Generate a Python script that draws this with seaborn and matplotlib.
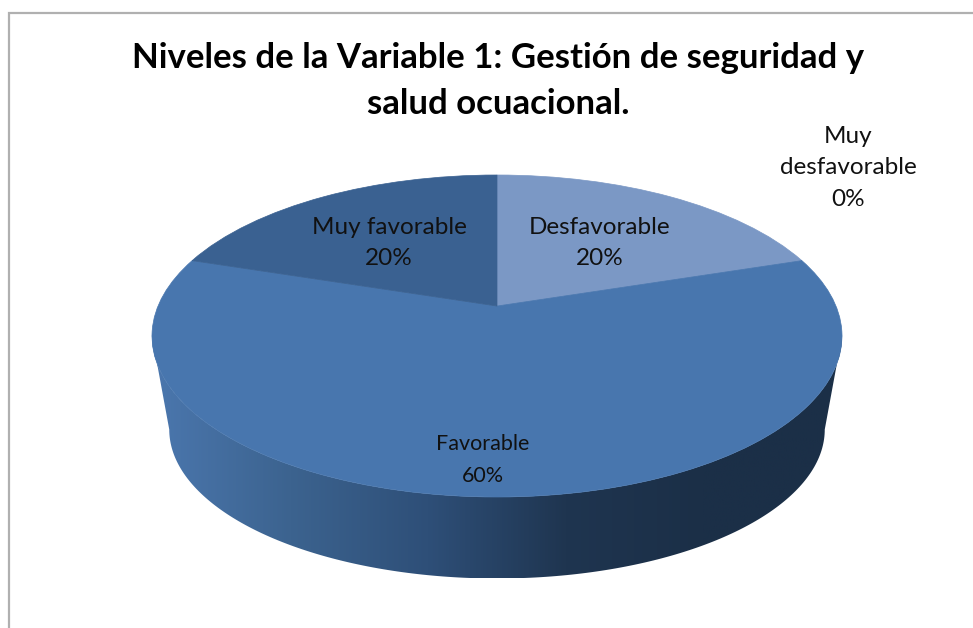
import numpy as np
import matplotlib
matplotlib.use('Agg')
import matplotlib.pyplot as plt
import seaborn as sns
from matplotlib.patches import PathPatch, Rectangle
from matplotlib.path import Path
from matplotlib.transforms import Transform

# Datos
categorias = ['Muy desfavorable', 'Desfavorable', 'Favorable', 'Muy favorable']
porcentajes = [0, 20, 60, 20]
etiquetas = ['Muy\ndesfavorable', 'Desfavorable', 'Favorable', 'Muy favorable']
titulo = 'Niveles de la Variable 1: Gestión de seguridad y\nsalud ocuacional.'

colores = ['#4f81bd', '#7b98c5', '#4876ae', '#3a6191']
colores_lateral = ['#4b77ae', '#3c638f', '#2e4f78', '#1f3550', '#1b2f47', '#1b2f47']

# Posicion del pie en pixeles de la figura
W, H = 973, 628
CX, CY, RX, RY = 497, 336, 345, 161
C_PERSPECTIVA = 0.186  # el vertice del pie queda por encima del centro
PROFUNDIDAD = 93.5
ESCALA_BASE = 0.95
RY_BASE = 149

pos_etiquetas = [(848, 168), (600, 243), (483, 460), (389, 243)]
tam_etiquetas = [17.5, 17.5, 15.5, 17.5]  # "Favorable" sale mas estrecha en el original


class Perspectiva(Transform):
    """Homografia que conserva el circulo unidad y desplaza el centro"""
    input_dims = output_dims = 2

    def __init__(self, c):
        super().__init__()
        self.c = c

    def transform_non_affine(self, xy):
        xy = np.asarray(xy, dtype=float)
        w = 1 + self.c * xy[:, 1]
        x = xy[:, 0] * np.sqrt(1 - self.c ** 2) / w
        y = (xy[:, 1] + self.c) / w
        return np.column_stack([x, y])


sns.set_theme(style='white')
plt.rcParams['font.family'] = ['Lato', 'DejaVu Sans']

fig = plt.figure(figsize=(W / 100, H / 100), dpi=100, facecolor='white')
ax = fig.add_axes([0, 0, 1, 1])

# Cara superior
wedges, _ = ax.pie(porcentajes, colors=colores, startangle=90, counterclock=False,
                   radius=1)
ax.set_aspect('auto')
ax.axis('off')

trans = Perspectiva(C_PERSPECTIVA) + ax.transData
for w, valor, color in zip(wedges, porcentajes, colores):
    w.set_transform(trans)
    w.set_zorder(3)
    w.set_edgecolor(color)
    w.set_linewidth(0.5)
    w.set_visible(valor > 0)

# Lateral con degradado
t = np.linspace(np.pi, 2 * np.pi, 200)
top_x, top_y = np.cos(t), np.sin(t)
base_x = np.cos(t[::-1]) * ESCALA_BASE
base_y = np.sin(t[::-1]) * RY_BASE / RY - PROFUNDIDAD / RY
lateral = np.column_stack([np.r_[top_x, base_x], np.r_[top_y, base_y]])
parche = PathPatch(Path(np.vstack([lateral, lateral[:1]]), closed=True),
                   facecolor='none', edgecolor='none')
ax.add_patch(parche)

cmap = sns.blend_palette(colores_lateral, as_cmap=True)
img = ax.imshow(np.linspace(0, 1, 256)[None, :], cmap=cmap, aspect='auto', zorder=2,
                extent=(-1, 1, lateral[:, 1].min(), 0.2))
img.set_clip_path(parche)
ax.set_xlim(-CX / RX, (W - CX) / RX)
ax.set_ylim((CY - H) / RY, CY / RY)

# Etiquetas, con el mismo paso de linea aunque cambie el tamano
for etiqueta, pct, (px, py), tam in zip(etiquetas, porcentajes, pos_etiquetas, tam_etiquetas):
    fig.text(px / W, 1 - py / H, f'{etiqueta}\n{pct}%', ha='center', va='center',
             fontsize=tam, color='#111111', linespacing=1.6 * 17.5 / tam, zorder=5)

fig.text(498 / W, 1 - 81 / H, titulo, ha='center', va='center', fontsize=25,
         fontweight='bold', color='black', linespacing=1.5)

# Marco del area del grafico (solo se ve arriba y a la izquierda)
fig.add_artist(Rectangle((8.5 / W, -0.1), 1.2, 1.1 - 13 / H, transform=fig.transFigure,
                         fill=False, edgecolor='#b0b0b0', linewidth=1.6))

fig.savefig('out.png', dpi=100)
plt.close(fig)
